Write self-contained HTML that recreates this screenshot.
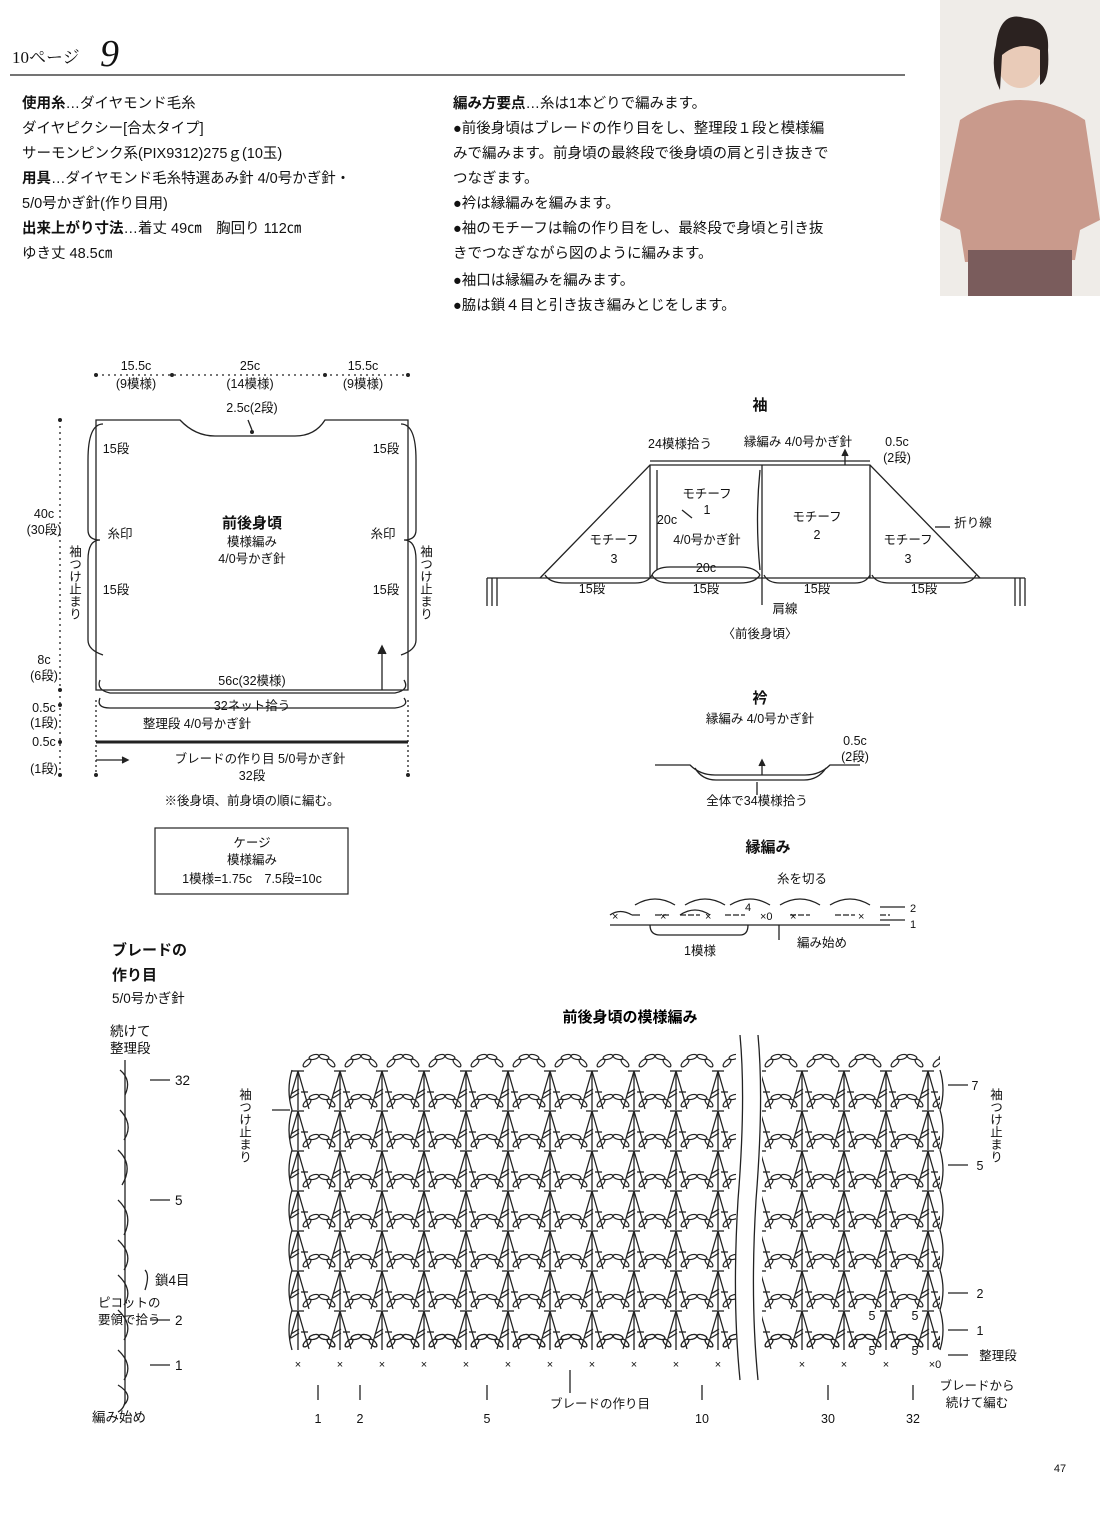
<!DOCTYPE html>
<html><head><meta charset="utf-8"><style>
html,body{margin:0;padding:0;background:#fff}
svg{display:block;font-family:"Liberation Sans","Noto Sans CJK JP",sans-serif}
</style></head><body>
<svg width="1100" height="1514" viewBox="0 0 1100 1514" xmlns="http://www.w3.org/2000/svg">
<defs>
<pattern id="fan" x="277" y="1070" width="42" height="40" patternUnits="userSpaceOnUse">
  <g stroke="#222" stroke-width="1.3" fill="none">
    <line x1="15" y1="1" x2="27" y2="1"/>
    <line x1="21" y1="1" x2="21" y2="40"/>
    <line x1="21" y1="1" x2="10" y2="39"/>
    <line x1="21" y1="1" x2="32" y2="39"/>
    <line x1="14" y1="24" x2="22" y2="19"/>
    <line x1="14" y1="28" x2="22" y2="23"/>
    <line x1="24" y1="22" x2="31" y2="22"/>
  </g>
</pattern>
<pattern id="arc" x="298" y="1070" width="42" height="40" patternUnits="userSpaceOnUse">
  <g stroke="#222" stroke-width="1.2" fill="none">
    <ellipse cx="9" cy="33" rx="5" ry="2.3" transform="rotate(-45 9 33)"/>
    <ellipse cx="16" cy="27" rx="5" ry="2.3" transform="rotate(-15 16 27)"/>
    <ellipse cx="26" cy="27" rx="5" ry="2.3" transform="rotate(15 26 27)"/>
    <ellipse cx="33" cy="33" rx="5" ry="2.3" transform="rotate(45 33 33)"/>
  </g>
</pattern>
</defs>

<!-- header -->
<text x="12" y="63" font-size="17" fill="#111" font-family="Liberation Serif,Noto Serif CJK SC,serif">10ページ</text>
<text x="100" y="66" font-size="38" fill="#111" font-style="italic" font-family="Liberation Serif,serif">9</text>
<line x1="10" y1="75" x2="905" y2="75" stroke="#222" stroke-width="1.2"/>

<!-- photo -->
<rect x="940" y="0" width="160" height="296" fill="#efece8"/>
<ellipse cx="1020" cy="58" rx="24" ry="30" fill="#e9cbb8"/>
<path d="M996 45 Q1000 10 1025 18 Q1050 20 1048 50 Q1050 80 1040 85 L1040 50 Q1020 40 1002 55 L1000 90 Q990 70 996 45Z" fill="#2b2220"/>
<path d="M960 120 Q990 100 1020 100 Q1055 100 1085 120 L1100 220 L1080 230 L1075 260 L965 262 L960 230 L940 220Z" fill="#c99a8c"/>
<rect x="968" y="250" width="104" height="46" fill="#7a5c5c"/>

<g font-size="14.5" fill="#111">
<text x="22" y="108"><tspan font-weight="bold">使用糸</tspan>…ダイヤモンド毛糸</text>
<text x="22" y="133">ダイヤピクシー[合太タイプ]</text>
<text x="22" y="158">サーモンピンク系(PIX9312)275ｇ(10玉)</text>
<text x="22" y="183"><tspan font-weight="bold">用具</tspan>…ダイヤモンド毛糸特選あみ針 4/0号かぎ針・</text>
<text x="22" y="208">5/0号かぎ針(作り目用)</text>
<text x="22" y="233"><tspan font-weight="bold">出来上がり寸法</tspan>…着丈 49㎝　胸回り 112㎝</text>
<text x="22" y="258">ゆき丈 48.5㎝</text>
<text x="453" y="108"><tspan font-weight="bold">編み方要点</tspan>…糸は1本どりで編みます。</text>
<text x="453" y="133">●前後身頃はブレードの作り目をし、整理段１段と模様編</text>
<text x="453" y="158">みで編みます。前身頃の最終段で後身頃の肩と引き抜きで</text>
<text x="453" y="183">つなぎます。</text>
<text x="453" y="208">●衿は縁編みを編みます。</text>
<text x="453" y="233">●袖のモチーフは輪の作り目をし、最終段で身頃と引き抜</text>
<text x="453" y="258">きでつなぎながら図のように編みます。</text>
<text x="453" y="285">●袖口は縁編みを編みます。</text>
<text x="453" y="310">●脇は鎖４目と引き抜き編みとじをします。</text>
</g>

<!-- body schematic -->
<g stroke="#222" stroke-width="1.3" fill="none">
<path d="M96 420 L180 420 Q195 436 215 436 L295 436 Q315 436 325 420 L408 420 L408 690 L96 690 Z"/>
<line x1="96" y1="742" x2="408" y2="742" stroke-width="3"/>
<line x1="96" y1="375" x2="408" y2="375" stroke-dasharray="2 4"/>
<line x1="60" y1="420" x2="60" y2="780" stroke-dasharray="2 4"/>
<line x1="96" y1="700" x2="96" y2="775" stroke-dasharray="2 3"/>
<line x1="408" y1="700" x2="408" y2="775" stroke-dasharray="2 3"/>
<path d="M103 424 Q88 424 88 460 L88 530 Q88 540 100 540 M100 540 Q88 540 88 560 L88 640 Q88 650 103 655"/>
<path d="M401 424 Q416 424 416 460 L416 530 Q416 540 404 540 M404 540 Q416 540 416 560 L416 640 Q416 650 401 655"/>
<path d="M100 680 Q96 690 110 693 L395 693 Q410 690 404 680"/>
<path d="M100 698 Q96 708 110 708 L395 708 Q410 706 404 698"/>
<line x1="382" y1="648" x2="382" y2="690"/>
<path d="M378 654 L382 646 L386 654" fill="#222"/>
<line x1="96" y1="760" x2="125" y2="760"/>
<path d="M122 757 L128 760 L122 763" fill="#222"/>
<line x1="252" y1="430" x2="248" y2="420"/>
</g>
<g fill="#222"><circle cx="96" cy="375" r="2"/><circle cx="172" cy="375" r="2"/><circle cx="325" cy="375" r="2"/><circle cx="408" cy="375" r="2"/><circle cx="60" cy="420" r="2"/><circle cx="60" cy="690" r="2"/><circle cx="60" cy="705" r="2"/><circle cx="60" cy="742" r="2"/><circle cx="60" cy="775" r="2"/><circle cx="96" cy="775" r="2"/><circle cx="408" cy="775" r="2"/><circle cx="252" cy="432" r="2"/></g>
<g font-size="12.5" fill="#111" text-anchor="middle">
<text x="136" y="370">15.5c</text><text x="136" y="388">(9模様)</text>
<text x="250" y="370">25c</text><text x="250" y="388">(14模様)</text>
<text x="363" y="370">15.5c</text><text x="363" y="388">(9模様)</text>
<text x="252" y="412">2.5c(2段)</text>
<text x="116" y="453">15段</text><text x="386" y="453">15段</text>
<text x="120" y="538">糸印</text><text x="383" y="538">糸印</text>
<text x="116" y="594">15段</text><text x="386" y="594">15段</text>
<text x="44" y="518">40c</text><text x="44" y="534">(30段)</text>
<text x="44" y="664">8c</text><text x="44" y="680">(6段)</text>
<text x="44" y="712">0.5c</text><text x="44" y="727">(1段)</text>
<text x="44" y="746">0.5c</text><text x="44" y="773">(1段)</text>
<text x="252" y="685">56c(32模様)</text>
<text x="252" y="710">32ネット拾う</text>
<text x="197" y="728">整理段 4/0号かぎ針</text>
<text x="260" y="763">ブレードの作り目 5/0号かぎ針</text>
<text x="252" y="780">32段</text>
<text x="252" y="805">※後身頃、前身頃の順に編む。</text>
<text x="252" y="528" font-size="15" font-weight="bold">前後身頃</text>
<text x="252" y="546">模様編み</text><text x="252" y="563">4/0号かぎ針</text>
</g>
<g font-size="12.5" fill="#111"><text x="74" y="545" writing-mode="tb">袖つけ止まり</text><text x="425" y="545" writing-mode="tb">袖つけ止まり</text></g>

<!-- gauge -->
<rect x="155" y="828" width="193" height="66" fill="none" stroke="#222" stroke-width="1.2"/>
<g font-size="12.5" text-anchor="middle" fill="#111"><text x="252" y="847">ケージ</text><text x="252" y="864">模様編み</text><text x="252" y="883">1模様=1.75c　7.5段=10c</text></g>

<!-- sleeve -->
<g stroke="#222" stroke-width="1.3" fill="none">
<line x1="487" y1="578" x2="1025" y2="578"/>
<line x1="487" y1="578" x2="487" y2="606"/><line x1="492" y1="578" x2="492" y2="606"/><line x1="497" y1="578" x2="497" y2="606"/>
<line x1="1015" y1="578" x2="1015" y2="606"/><line x1="1020" y1="578" x2="1020" y2="606"/><line x1="1025" y1="578" x2="1025" y2="606"/>
<path d="M540 578 L650 465 L870 465 L980 578"/>
<line x1="650" y1="461" x2="870" y2="461"/>
<line x1="650" y1="465" x2="650" y2="578"/><line x1="762" y1="465" x2="762" y2="578"/><line x1="870" y1="465" x2="870" y2="578"/>
<path d="M545 575 Q550 583 565 583 L635 583 Q648 583 652 575"/>
<path d="M652 575 Q656 583 670 583 L740 583 Q755 583 760 575"/>
<path d="M764 575 Q768 583 780 583 L855 583 Q866 583 870 575"/>
<path d="M872 575 Q876 583 890 583 L960 583 Q972 583 976 575"/>
<path d="M652 575 Q656 567 670 567 L740 567 Q755 567 760 575"/>
<path d="M657 470 L657 570" /><path d="M760 470 Q755 520 760 570"/>
<line x1="845" y1="465" x2="845" y2="452"/><path d="M842 456 L845 450 L848 456" fill="#222"/>
<line x1="682" y1="510" x2="692" y2="518"/><line x1="762" y1="578" x2="762" y2="605"/>
<line x1="935" y1="527" x2="950" y2="527"/>
</g>
<g font-size="12.5" fill="#111" text-anchor="middle">
<text x="760" y="410" font-size="15" font-weight="bold">袖</text>
<text x="680" y="448">24模様拾う</text><text x="798" y="446">縁編み 4/0号かぎ針</text>
<text x="897" y="446">0.5c</text><text x="897" y="462">(2段)</text>
<text x="707" y="498">モチーフ</text><text x="707" y="514">1</text>
<text x="667" y="524">20c</text><text x="707" y="544">4/0号かぎ針</text>
<text x="817" y="521">モチーフ</text><text x="817" y="539">2</text>
<text x="614" y="544">モチーフ</text><text x="614" y="563">3</text>
<text x="908" y="544">モチーフ</text><text x="908" y="563">3</text>
<text x="973" y="527">折り線</text>
<text x="706" y="572">20c</text>
<text x="592" y="593">15段</text><text x="706" y="593">15段</text><text x="817" y="593">15段</text><text x="924" y="593">15段</text>
<text x="785" y="613">肩線</text><text x="760" y="638">〈前後身頃〉</text>
<text x="760" y="703" font-size="15" font-weight="bold">衿</text>
<text x="760" y="723">縁編み 4/0号かぎ針</text>
<text x="855" y="745">0.5c</text><text x="855" y="761">(2段)</text>
<text x="757" y="805">全体で34模様拾う</text>
<text x="768" y="852" font-size="15" font-weight="bold">縁編み</text>
<text x="802" y="883">糸を切る</text>
<text x="700" y="955">1模様</text><text x="822" y="947">編み始め</text>
</g>
<g stroke="#222" stroke-width="1.3" fill="none">
<path d="M655 765 L690 765 Q700 775 715 775 L805 775 Q820 775 830 765 L860 765"/>
<path d="M695 768 Q702 780 716 780 L804 780 Q818 780 826 768"/>
<line x1="762" y1="775" x2="762" y2="762"/><path d="M759 766 L762 760 L765 766" fill="#222"/>
<line x1="757" y1="782" x2="757" y2="795"/>
<line x1="610" y1="925" x2="890" y2="925"/>
<path d="M610 915 Q620 908 632 915 M632 915 L640 915 M680 915 Q695 905 710 915 M730 905 Q750 893 770 905 M780 905 Q800 893 820 905 M830 905 Q850 893 870 905 M635 905 Q655 893 675 905 M685 905 Q705 893 725 905"/>
<path d="M655 915 L670 915 M680 915 L700 915 M725 915 L745 915 M790 915 L810 915 M835 915 L855 915 M880 915 L890 915" stroke-dasharray="6 2"/>
<path d="M650 925 Q650 935 660 935 L740 935 Q748 935 748 925"/>
<line x1="779" y1="925" x2="779" y2="940"/>
<line x1="880" y1="907" x2="905" y2="907"/><line x1="880" y1="920" x2="905" y2="920"/>
</g>
<g font-size="11" fill="#111"><text x="612" y="920">×</text><text x="660" y="920">×</text><text x="705" y="920">×</text><text x="760" y="920">×0</text><text x="790" y="920">×</text><text x="858" y="920">×</text><text x="745" y="911">4</text>
<text x="910" y="912">2</text><text x="910" y="928">1</text></g>

<!-- braid -->
<g font-size="13.5" fill="#111">
<text x="112" y="955" font-size="15" font-weight="bold">ブレードの</text>
<text x="112" y="980" font-size="15" font-weight="bold">作り目</text>
<text x="112" y="1003">5/0号かぎ針</text>
<text x="110" y="1036">続けて</text><text x="110" y="1053">整理段</text>
<text x="175" y="1085">32</text><text x="175" y="1205">5</text>
<text x="155" y="1285">鎖4目</text><text x="98" y="1307" font-size="12.5">ピコットの</text><text x="98" y="1324" font-size="12.5">要領で拾う</text>
<text x="175" y="1325">2</text><text x="175" y="1370">1</text>
<text x="92" y="1422">編み始め</text>
</g>
<g stroke="#222" stroke-width="1.3" fill="none">
<path d="M125 1060 L125 1400 Q125 1408 118 1412"/>
<path d="M120 1070 Q132 1080 125 1095 M120 1110 Q134 1125 124 1140 M118 1150 Q134 1165 122 1185 M118 1200 Q134 1215 124 1235 M118 1240 Q134 1255 124 1270 M118 1275 Q134 1290 124 1305 M118 1310 Q134 1325 124 1340 M118 1350 Q134 1365 124 1380 M118 1385 Q134 1395 124 1405"/>
<path d="M150 1080 L170 1080 M150 1200 L170 1200 M150 1320 L170 1320 M150 1365 L170 1365"/>
<path d="M145 1270 Q150 1275 145 1290"/>
</g>

<!-- main chart -->
<text x="630" y="1022" font-size="15" font-weight="bold" text-anchor="middle">前後身頃の模様編み</text>
<rect x="290" y="1070" width="655" height="280" fill="url(#fan)"/>
<rect x="298" y="1030" width="642" height="320" fill="url(#arc)"/>
<rect x="298" y="1326" width="642" height="40" fill="url(#arc)"/>
<rect x="736" y="1035" width="26" height="345" fill="#fff"/>
<g stroke="#222" stroke-width="1.3" fill="none">
<path d="M292 1070 Q286 1090 292 1110 Q286 1130 292 1150 Q286 1170 292 1190 Q286 1210 292 1230 Q286 1250 292 1270 Q286 1290 292 1310 Q286 1330 292 1350"/>
<path d="M940 1070 Q946 1090 940 1110 Q946 1130 940 1150 Q946 1170 940 1190 Q946 1210 940 1230 Q946 1250 940 1270 Q946 1290 940 1310 Q946 1330 940 1350"/>
<path d="M740 1035 Q746 1100 738 1200 Q732 1300 740 1380"/>
<path d="M758 1035 Q764 1100 756 1200 Q750 1300 758 1380"/>
<line x1="318" y1="1400" x2="318" y2="1385"/><line x1="360" y1="1400" x2="360" y2="1385"/><line x1="487" y1="1400" x2="487" y2="1385"/><line x1="702" y1="1400" x2="702" y2="1385"/><line x1="828" y1="1400" x2="828" y2="1385"/><line x1="913" y1="1400" x2="913" y2="1385"/>
<line x1="570" y1="1370" x2="570" y2="1393"/>
<line x1="290" y1="1110" x2="272" y2="1110"/>
<line x1="948" y1="1085" x2="968" y2="1085"/><line x1="948" y1="1165" x2="968" y2="1165"/><line x1="948" y1="1293" x2="968" y2="1293"/><line x1="948" y1="1330" x2="968" y2="1330"/><line x1="948" y1="1355" x2="968" y2="1355"/>
</g>
<g font-size="11" fill="#111" text-anchor="middle">
<text x="298" y="1368">×</text><text x="340" y="1368">×</text><text x="382" y="1368">×</text><text x="424" y="1368">×</text><text x="466" y="1368">×</text><text x="508" y="1368">×</text><text x="550" y="1368">×</text><text x="592" y="1368">×</text><text x="634" y="1368">×</text><text x="676" y="1368">×</text><text x="718" y="1368">×</text><text x="802" y="1368">×</text><text x="844" y="1368">×</text><text x="886" y="1368">×</text><text x="935" y="1368">×0</text>
</g>
<g font-size="12.5" fill="#111" text-anchor="middle">
<text x="318" y="1423">1</text><text x="360" y="1423">2</text><text x="487" y="1423">5</text><text x="600" y="1408">ブレードの作り目</text><text x="702" y="1423">10</text><text x="828" y="1423">30</text><text x="913" y="1423">32</text>
<text x="975" y="1090">7</text><text x="980" y="1170">5</text><text x="980" y="1298">2</text><text x="980" y="1335">1</text><text x="998" y="1360">整理段</text>
<text x="977" y="1390">ブレードから</text><text x="977" y="1407">続けて編む</text>
<text x="872" y="1320">5</text><text x="915" y="1320">5</text><text x="872" y="1355">5</text><text x="915" y="1355">5</text>
<text x="1060" y="1472" font-size="11">47</text>
</g>
<g font-size="12.5" fill="#111"><text x="244" y="1088" writing-mode="tb">袖つけ止まり</text><text x="995" y="1088" writing-mode="tb">袖つけ止まり</text></g>
</svg>
</body></html>
